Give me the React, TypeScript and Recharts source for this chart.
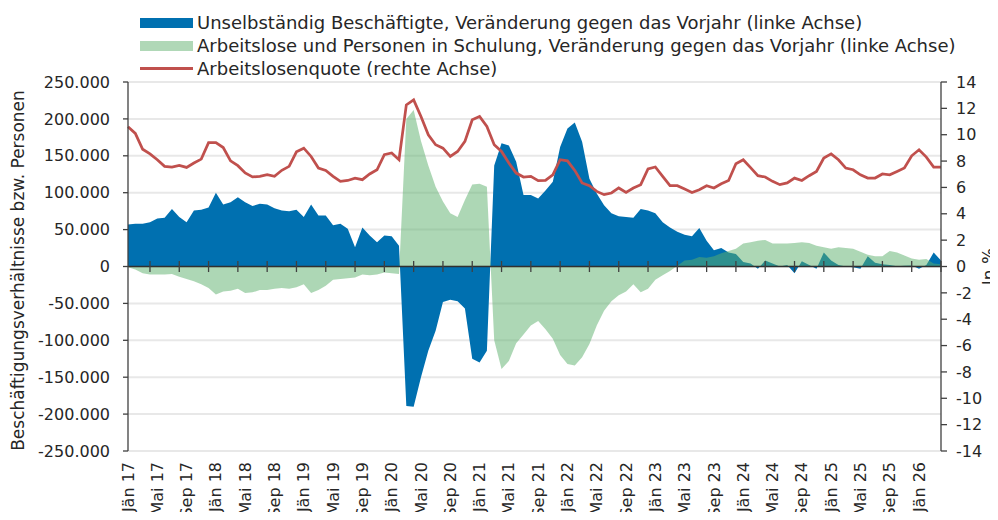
import React from 'react';
import { ComposedChart, Area, Line, XAxis, YAxis, CartesianGrid, ReferenceLine } from 'recharts';

const FONT = '"DejaVu Sans", sans-serif';

const monthNames = ['Jän', 'Feb', 'Mär', 'Apr', 'Mai', 'Jun', 'Jul', 'Aug', 'Sep', 'Okt', 'Nov', 'Dez'];
const years = ['17', '18', '19', '20', '21', '22', '23', '24', '25', '26'];

// Unselbständig Beschäftigte, Veränderung gegen das Vorjahr
const beschaeftigte = [
  57000, 58000, 58000, 60000, 65000, 66000, 78000, 67000, 60000, 76000, 77000, 80000,
  100000, 84000, 87000, 94000, 87000, 82000, 85000, 84000, 79000, 76000, 75000, 77000,
  67000, 84000, 69000, 69000, 56000, 58000, 51000, 26000, 53000, 42000, 33000, 42000,
  41000, 28000, -189000, -190000, -150000, -114000, -87000, -48000, -45000, -47000, -57000, -125000,
  -130000, -114000, 137000, 167000, 164000, 142000, 97000, 97000, 92000, 103000, 115000, 162000,
  187000, 195000, 169000, 119000, 99000, 83000, 72000, 68000, 67000, 66000, 78000, 76000,
  72000, 60000, 53000, 47000, 43000, 41000, 52000, 35000, 22000, 25000, 19000, 17000,
  6000, 4000, -3000, 8000, 4000, 0, 2000, -9000, 7000, 2000, -3000, 19000,
  8000, 2000, 0, -1000, -3000, 14000, 5000, 3000, 2000, 500, 1000, 1500,
  -3000, 2000, 19000, 8000,
];

// Arbeitslose und Personen in Schulung, Veränderung gegen das Vorjahr
const arbeitslose = [
  -1000, -4000, -9000, -11000, -11000, -11000, -10000, -14000, -17000, -20000, -24000, -29000,
  -38000, -34000, -33000, -30000, -36000, -35000, -32000, -32000, -30000, -29000, -30000, -28000,
  -24000, -36000, -32000, -26000, -18000, -17000, -16000, -15000, -11000, -12000, -11000, -8000,
  -9000, -10000, 200000, 212000, 170000, 137000, 108000, 88000, 72000, 67000, 90000, 111000,
  112000, 108000, -100000, -139000, -128000, -104000, -92000, -80000, -74000, -85000, -98000, -120000,
  -132000, -134000, -123000, -105000, -80000, -60000, -47000, -39000, -34000, -24000, -35000, -30000,
  -18000, -12000, -6000, 1000, 8000, 9000, 13000, 12000, 14000, 18000, 21000, 24000,
  31000, 33000, 35000, 36000, 31000, 31000, 31000, 32000, 33000, 32000, 28000, 26000,
  24000, 26000, 25000, 24000, 20000, 16000, 14000, 14000, 21000, 19000, 15000, 11000,
  9000, 10000, 4000, 3000,
];

// Arbeitslosenquote in %
const quote = [
  10.6, 10.1, 8.9, 8.55, 8.1, 7.6, 7.55, 7.67, 7.52, 7.85, 8.15, 9.4,
  9.4, 9.03, 8.02, 7.65, 7.1, 6.8, 6.84, 6.96, 6.84, 7.3, 7.6, 8.7,
  8.98, 8.35, 7.47, 7.29, 6.84, 6.46, 6.53, 6.71, 6.59, 7.02, 7.34, 8.48,
  8.61, 8.1, 12.26, 12.64, 11.38, 9.99, 9.24, 8.98, 8.35, 8.73, 9.49, 11.13,
  11.38, 10.62, 9.24, 8.73, 7.85, 7.09, 6.79, 6.84, 6.51, 6.53, 6.96, 8.1,
  8.02, 7.29, 6.34, 6.13, 5.7, 5.45, 5.58, 5.96, 5.62, 5.96, 6.21, 7.4,
  7.55, 6.84, 6.13, 6.13, 5.88, 5.62, 5.83, 6.13, 5.96, 6.28, 6.53, 7.8,
  8.1, 7.5, 6.89, 6.79, 6.46, 6.21, 6.34, 6.71, 6.53, 6.89, 7.21, 8.23,
  8.55, 8.1, 7.47, 7.34, 6.96, 6.71, 6.71, 7.02, 6.96, 7.21, 7.47, 8.4,
  8.86, 8.3, 7.55, 7.55,
];

const leftTicks = [-250000, -200000, -150000, -100000, -50000, 0, 50000, 100000, 150000, 200000, 250000];
const rightTicks = [-14, -12, -10, -8, -6, -4, -2, 0, 2, 4, 6, 8, 10, 12, 14];

const months = beschaeftigte.map((_, i) => `${monthNames[i % 12]} ${years[Math.floor(i / 12)]}`);

const data = months.map((month, i) => ({
  month,
  beschaeftigte: beschaeftigte[i],
  arbeitslose: arbeitslose[i],
  quote: quote[i],
}));

// tick marks on the zero line sit between Apr/Mai, Aug/Sep, Dez/Jän
const tickMonths = months.filter((_, i) => i % 4 === 3);

const BLUE = '#0070b0';
const GREEN = '#5cb06c';
const RED = '#c0504d';
const AXIS = '#404040';
const TEXT = '#262626';

const formatThousands = (v: number) => {
  const s = Math.abs(v).toString().replace(/\B(?=(\d{3})+(?!\d))/g, '.');
  return v < 0 ? `-${s}` : s;
};

const MonthTick = ({ x, y, payload }: any) => {
  const ty = y + 3;
  return (
    <text
      x={x}
      y={ty}
      dy="0.35em"
      transform={`rotate(-90, ${x}, ${ty})`}
      textAnchor="end"
      fill={TEXT}
      fontSize={16}
      fontFamily={FONT}
    >
      {payload.value}
    </text>
  );
};

// rotated axis title, placed inside the axis box
const axisTitle = (text: string, offsetX: number, offsetY = 0) => (props: any) => {
  const { viewBox } = props;
  const cx = viewBox.x + offsetX;
  const cy = viewBox.y + viewBox.height / 2 + offsetY;
  return (
    <text
      x={cx}
      y={cy}
      dy="0.35em"
      transform={`rotate(-90, ${cx}, ${cy})`}
      textAnchor="middle"
      fill={TEXT}
      fontSize={17}
      fontFamily={FONT}
    >
      {text}
    </text>
  );
};

const legendItems = [
  { label: 'Unselbständig Beschäftigte, Veränderung gegen das Vorjahr (linke Achse)', type: 'area', color: BLUE },
  { label: 'Arbeitslose und Personen in Schulung, Veränderung gegen das Vorjahr (linke Achse)', type: 'area', color: '#b0d8b7' },
  { label: 'Arbeitslosenquote (rechte Achse)', type: 'line', color: RED },
];

const App: React.FC = () => {
  return (
    <div style={{ position: 'relative', width: 998, height: 520, margin: -8, fontFamily: FONT }}>
      <ComposedChart width={998} height={520} data={data} margin={{ top: 82, right: 0, bottom: 0, left: 0 }}>
        <CartesianGrid yAxisId="left" vertical={false} stroke="#e8e8e8" strokeWidth={2} />
        <XAxis
          dataKey="month"
          interval={3}
          height={69}
          axisLine={false}
          tickLine={false}
          tick={<MonthTick />}
        />
        <YAxis
          yAxisId="left"
          domain={[-250000, 250000]}
          ticks={leftTicks}
          width={128}
          tickFormatter={formatThousands}
          axisLine={{ stroke: AXIS, strokeWidth: 1.3 }}
          tickLine={{ stroke: AXIS, strokeWidth: 1.3 }}
          tickSize={5}
          tickMargin={13}
          tick={{ fill: TEXT, fontSize: 16, fontFamily: FONT }}
          label={{ content: axisTitle('Beschäftigungsverhältnisse bzw. Personen', 18, 4) }}
        />
        <YAxis
          yAxisId="right"
          orientation="right"
          domain={[-14, 14]}
          ticks={rightTicks}
          width={57}
          axisLine={{ stroke: AXIS, strokeWidth: 1.3 }}
          tickLine={{ stroke: AXIS, strokeWidth: 1.3 }}
          tickSize={6}
          tickMargin={9}
          tick={{ fill: TEXT, fontSize: 16, fontFamily: FONT, textAnchor: 'start' }}
          label={{ content: axisTitle('In %', 48) }}
        />
        <Area
          yAxisId="left"
          type="linear"
          dataKey="beschaeftigte"
          baseValue={0}
          stroke="none"
          fill={BLUE}
          fillOpacity={1}
          isAnimationActive={false}
        />
        <Area
          yAxisId="left"
          type="linear"
          dataKey="arbeitslose"
          baseValue={0}
          stroke="none"
          fill={GREEN}
          fillOpacity={0.5}
          isAnimationActive={false}
        />
        <ReferenceLine yAxisId="left" y={0} stroke="#303030" strokeWidth={1.5} />
        {tickMonths.map((m) => (
          <ReferenceLine
            key={m}
            yAxisId="left"
            segment={[{ x: m, y: -7500 }, { x: m, y: 7500 }]}
            position="end"
            stroke={AXIS}
            strokeWidth={1.3}
            ifOverflow="visible"
          />
        ))}
        <Line
          yAxisId="right"
          type="linear"
          dataKey="quote"
          stroke={RED}
          strokeWidth={2.75}
          dot={false}
          isAnimationActive={false}
        />
      </ComposedChart>

      {/* Legende */}
      <div style={{ position: 'absolute', left: 140, top: 11, fontSize: 18, color: TEXT, lineHeight: '23px' }}>
        {legendItems.map((item) => (
          <div key={item.label} style={{ display: 'flex', alignItems: 'center', height: 23 }}>
            <div style={{ width: 53, display: 'flex', alignItems: 'center' }}>
              <div
                style={{
                  width: 53,
                  height: item.type === 'area' ? 10 : 3,
                  backgroundColor: item.color,
                }}
              />
            </div>
            <span style={{ marginLeft: 4, whiteSpace: 'nowrap' }}>{item.label}</span>
          </div>
        ))}
      </div>
    </div>
  );
};

export default App;
